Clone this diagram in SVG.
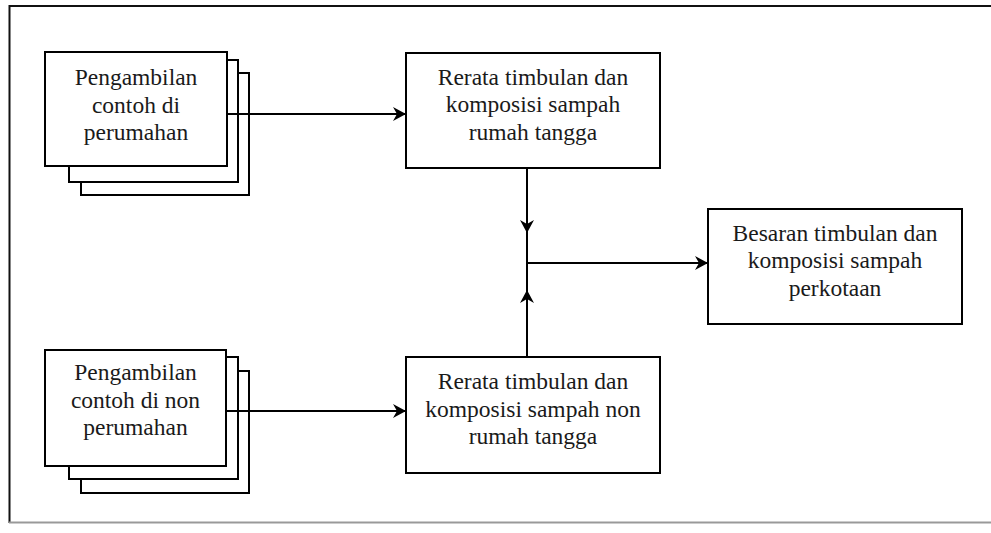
<svg xmlns="http://www.w3.org/2000/svg" width="991" height="533" viewBox="0 0 991 533">
<style>
.box{fill:#fff;stroke:#000;stroke-width:2}
.t{font-family:"Liberation Serif","Times New Roman",serif;font-size:23.5px;fill:#1a1a1a;text-anchor:middle}
.c{fill:none;stroke:#000;stroke-width:2}
</style>
<defs>
<marker id="ah" viewBox="-14 -8 15 16" refX="0" refY="0" markerWidth="15" markerHeight="16" markerUnits="userSpaceOnUse" orient="auto">
<path d="M0,0 L-13,-7 L-9,0 L-13,7 Z" fill="#000"/>
</marker>
</defs>
<rect width="991" height="533" fill="#fff"/>
<g id="frame">
<path d="M991,6 H9.5 V523" fill="none" stroke="#111" stroke-width="2"/>
<path d="M9,522.5 H991" fill="none" stroke="#999" stroke-width="2"/>
</g>
<g id="node-sampling-rt">
<rect class="box" x="81" y="73" width="168" height="122"/>
<rect class="box" x="69" y="60" width="169" height="122"/>
<rect class="box" x="45" y="52" width="182" height="114"/>
<text class="t" x="136" y="85">Pengambilan</text>
<text class="t" x="136" y="112.5">contoh di</text>
<text class="t" x="136" y="140">perumahan</text>
</g>
<g id="node-sampling-nonrt">
<rect class="box" x="81" y="371" width="168" height="122"/>
<rect class="box" x="69" y="357" width="169" height="122"/>
<rect class="box" x="45" y="350" width="181" height="116"/>
<text class="t" x="135.5" y="380">Pengambilan</text>
<text class="t" x="135.5" y="407.5">contoh di non</text>
<text class="t" x="135.5" y="434.5">perumahan</text>
</g>
<g id="node-avg-rt">
<rect class="box" x="406" y="53" width="254" height="115"/>
<text class="t" x="533" y="85">Rerata timbulan dan</text>
<text class="t" x="533" y="112">komposisi sampah</text>
<text class="t" x="533" y="140">rumah tangga</text>
</g>
<g id="node-avg-nonrt">
<rect class="box" x="406" y="357" width="254" height="116"/>
<text class="t" x="533" y="389">Rerata timbulan dan</text>
<text class="t" x="533" y="416.5">komposisi sampah non</text>
<text class="t" x="533" y="444">rumah tangga</text>
</g>
<g id="node-total">
<rect class="box" x="708" y="209" width="254" height="115"/>
<text class="t" x="835" y="240.5">Besaran timbulan dan</text>
<text class="t" x="835" y="268">komposisi sampah</text>
<text class="t" x="835" y="295.5">perkotaan</text>
</g>
<g id="connectors">
<path class="c" d="M227,114 H406" marker-end="url(#ah)"/>
<path class="c" d="M226,411 H406" marker-end="url(#ah)"/>
<path class="c" d="M527,168 V233" marker-end="url(#ah)"/>
<path class="c" d="M527,357 V290" marker-end="url(#ah)"/>
<path class="c" d="M527,233 V290"/>
<path class="c" d="M527,263 H708" marker-end="url(#ah)"/>
</g>
</svg>
